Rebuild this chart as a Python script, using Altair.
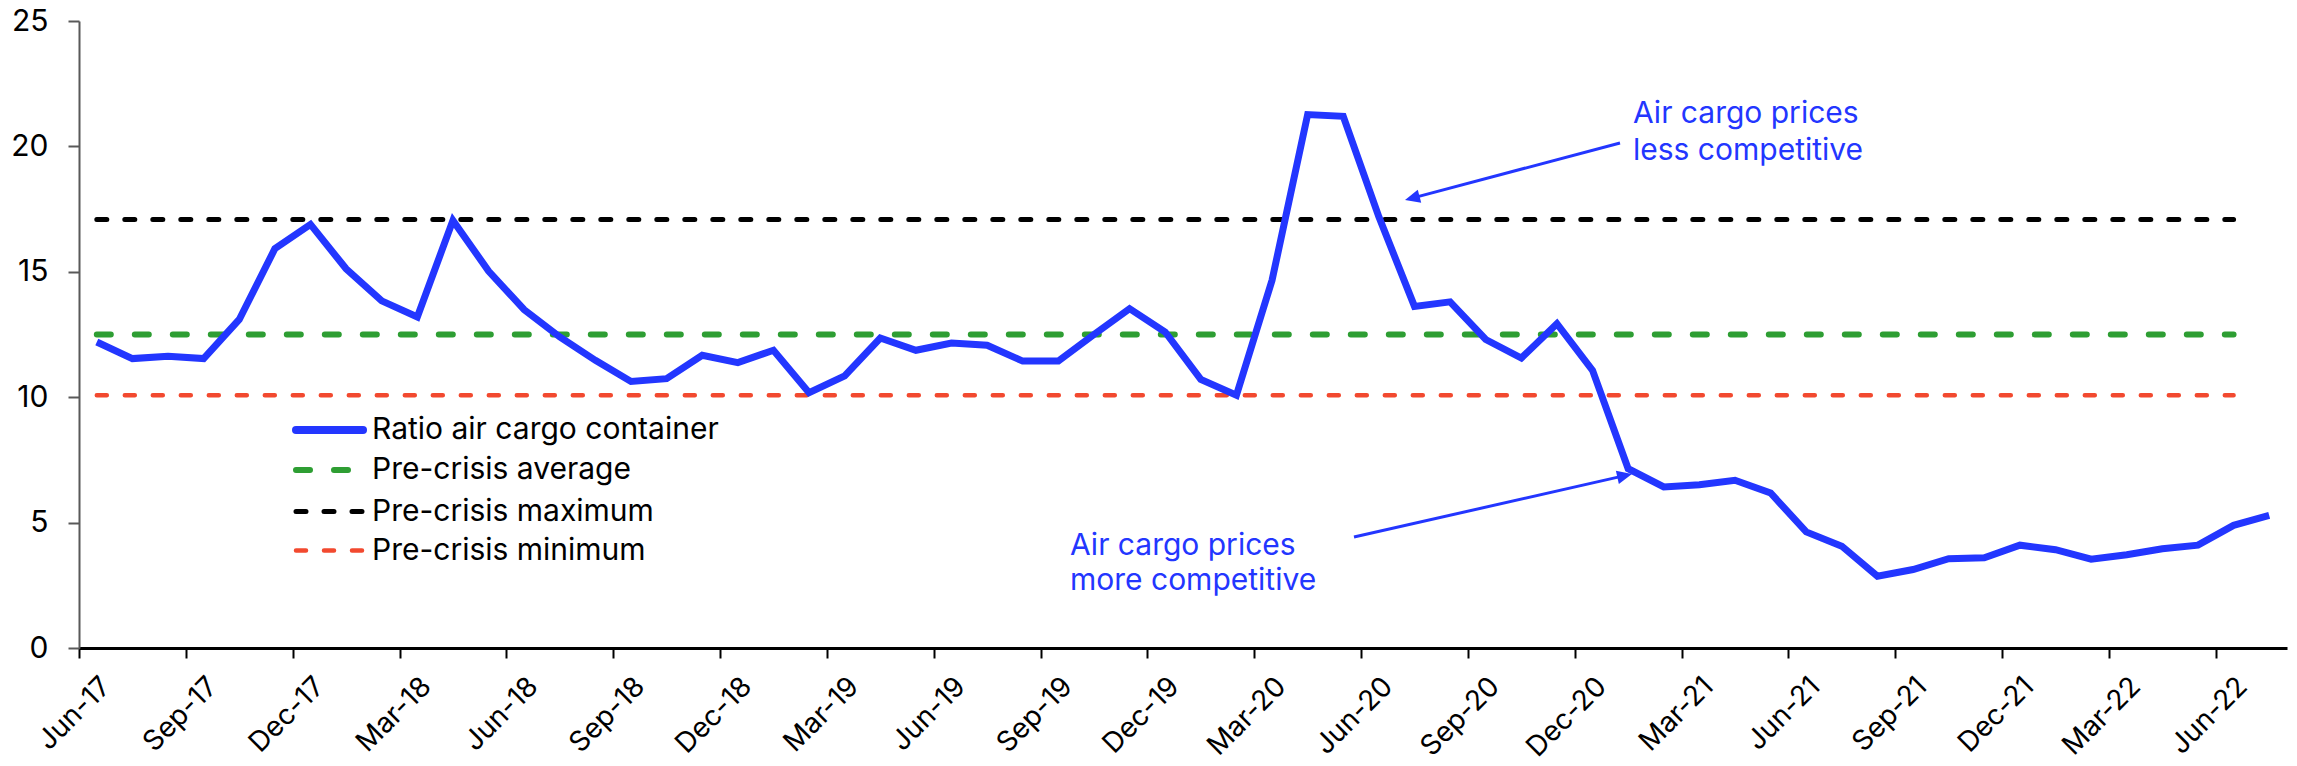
import math
import json
import altair as alt
import pandas as pd

# ---------------- data ----------------
month_labels = list(pd.date_range("2017-06-01", periods=62, freq="MS").strftime("%b-%y"))

ratio = [12.2, 11.54, 11.63, 11.54, 13.1, 15.92, 16.89, 15.12, 13.84, 13.2,
         17.05, 15.03, 13.49, 12.4, 11.47, 10.63, 10.74, 11.67, 11.38, 11.87,
         10.18, 10.85, 12.36, 11.87, 12.16, 12.07, 11.44, 11.44, 12.5, 13.53,
         12.6, 10.71, 10.08, 14.66, 21.27, 21.2, 17.19, 13.62, 13.8, 12.3,
         11.56, 12.93, 11.07, 7.15, 6.42, 6.51, 6.69, 6.18, 4.63, 4.06,
         2.86, 3.13, 3.56, 3.6, 4.1, 3.92, 3.54, 3.72, 3.96, 4.1,
         4.89, 5.29]

tick_labels = ["Jun-17", "Sep-17", "Dec-17", "Mar-18", "Jun-18", "Sep-18", "Dec-18",
               "Mar-19", "Jun-19", "Sep-19", "Dec-19", "Mar-20", "Jun-20", "Sep-20",
               "Dec-20", "Mar-21", "Jun-21", "Sep-21", "Dec-21", "Mar-22", "Jun-22"]
y_ticks = [0, 5, 10, 15, 20, 25]

series_names = ["Ratio air cargo container", "Pre-crisis average",
                "Pre-crisis maximum", "Pre-crisis minimum"]
ref_values = [12.5, 17.09, 10.08]          # average, maximum, minimum
ref_span = [0.5, 60.5]                     # months covered by the reference lines

annot_less = ["Air cargo prices", "less competitive"]
annot_more = ["Air cargo prices", "more competitive"]

# ---------------- styling ----------------
FONT = "Inter"
BLUE = "#2336ff"
styles = {
    "Pre-crisis average": dict(color="#2e9e33", strokeWidth=6, strokeDash=[14, 24]),
    "Pre-crisis maximum": dict(color="#000000", strokeWidth=5, strokeDash=[10, 18]),
    "Pre-crisis minimum": dict(color="#f2492f", strokeWidth=4.5, strokeDash=[10, 18]),
}

W, H = 2208, 627

df_line = pd.DataFrame({"m": [i + 0.5 for i in range(len(ratio))],
                        "month": month_labels, "v": ratio})

x_scale = alt.Scale(domain=[0, 62], nice=False, zero=False)
y_scale = alt.Scale(domain=[0, 25], nice=False)

label_expr = json.dumps(tick_labels) + "[round(datum.value / 3)]"

x_axis = alt.Axis(values=list(range(0, 61, 3)), labelExpr=label_expr, title=None,
                  grid=False, domainColor="#000000", domainWidth=3,
                  tickColor="#000000", tickWidth=2, tickSize=10,
                  labelFont=FONT, labelFontSize=28, labelColor="#000000",
                  labelAngle=-45, labelAlign="right", labelBaseline="middle",
                  labelPadding=24, labelOffset=27, labelOverlap=False, labelFlush=False)
y_axis = alt.Axis(values=y_ticks, title=None, grid=False,
                  domainColor="#595959", domainWidth=2,
                  tickColor="#595959", tickWidth=2, tickSize=11,
                  labelFont=FONT, labelFontSize=30, labelColor="#000000",
                  labelPadding=20)

base_line = alt.Chart(df_line).mark_line(color=BLUE, strokeWidth=7, strokeJoin="miter",
                                         strokeCap="butt").encode(
    x=alt.X("m:Q", scale=x_scale, axis=x_axis),
    y=alt.Y("v:Q", scale=y_scale, axis=y_axis),
)

layers = []
for name, val in zip(series_names[1:], ref_values):
    st = styles[name]
    d = pd.DataFrame({"x0": [ref_span[0]], "x1": [ref_span[1]], "v": [val], "series": [name]})
    layers.append(
        alt.Chart(d).mark_rule(strokeCap="round", **st).encode(
            x=alt.X("x0:Q", scale=x_scale), x2="x1:Q",
            y=alt.Y("v:Q", scale=y_scale))
    )

# ---------------- legend (drawn by hand) ----------------
leg_rows = [409, 449, 490.5, 529.5]
leg_x0, leg_x1, leg_tx = 217, 284, 293
leg_df = pd.DataFrame({"label": series_names, "ly": leg_rows})
for name, ly in zip(series_names, leg_rows):
    d = leg_df[leg_df.label == name]
    if name == series_names[0]:
        st = dict(color=BLUE, strokeWidth=8)
    else:
        st = styles[name]
    layers.append(alt.Chart(d).mark_rule(strokeCap="round", **st).encode(
        x=alt.value(leg_x0), x2=alt.value(leg_x1), y=alt.value(ly)))
    layers.append(alt.Chart(d).mark_text(align="left", baseline="middle", font=FONT,
                                         fontSize=30, color="#000000").encode(
        x=alt.value(leg_tx), y=alt.value(ly), text="label:N"))

# ---------------- annotations ----------------
one = pd.DataFrame({"a": [0]})
layers.append(alt.Chart(one).mark_text(align="left", baseline="alphabetic", font=FONT,
                                       fontSize=30, color=BLUE, lineHeight=37).encode(
    x=alt.value(1554), y=alt.value(102), text=alt.value(annot_less)))
layers.append(alt.Chart(one).mark_text(align="left", baseline="alphabetic", font=FONT,
                                       fontSize=30, color=BLUE, lineHeight=35).encode(
    x=alt.value(991), y=alt.value(534), text=alt.value(annot_more)))

arrows = [((1541, 122), (1326, 179)), ((1275, 516), (1553, 453))]
HEAD = 15
for (tx, ty), (hx, hy) in arrows:
    dx, dy = hx - tx, hy - ty
    L = math.hypot(dx, dy)
    ux, uy = dx / L, dy / L
    ang = math.degrees(math.atan2(ux, -uy)) % 360
    cx, cy = hx - ux * HEAD / 2, hy - uy * HEAD / 2
    layers.append(alt.Chart(one).mark_rule(color=BLUE, strokeWidth=3).encode(
        x=alt.value(tx), y=alt.value(ty), x2=alt.value(cx), y2=alt.value(cy)))
    layers.append(alt.Chart(one).mark_point(shape="M0,-1L0.9,1L-0.9,1Z", filled=True,
                                            size=HEAD * HEAD, angle=ang, color=BLUE,
                                            opacity=1, strokeWidth=0).encode(
        x=alt.value(cx), y=alt.value(cy)))

chart = alt.layer(*layers[:3], base_line, *layers[3:]).properties(
    width=W, height=H,
    autosize=alt.AutoSizeParams(type="none"),
    padding={"left": 79, "top": 21, "right": 10, "bottom": 118},
    background="#ffffff",
).configure_view(strokeWidth=0)

chart.save("out.html", embed_options={"renderer": "svg", "actions": False})
